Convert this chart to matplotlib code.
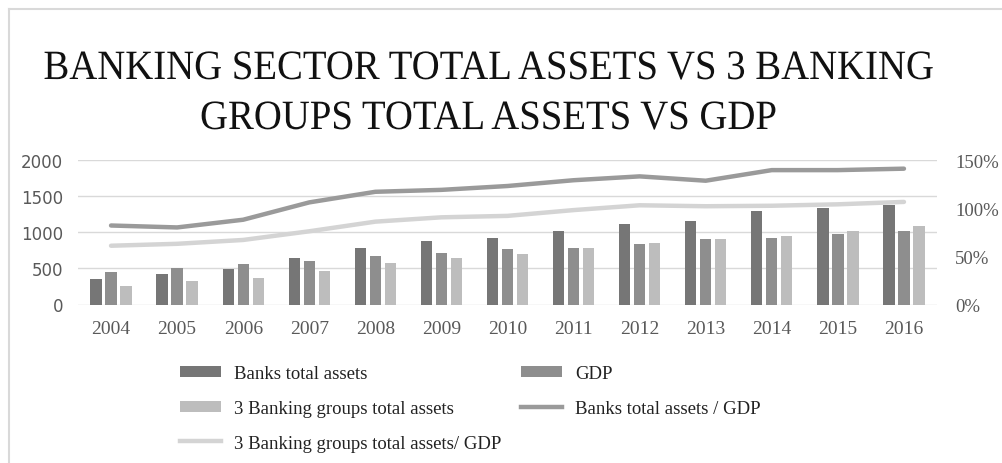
import matplotlib
matplotlib.use("Agg")
import matplotlib.pyplot as plt
import numpy as np
from matplotlib.lines import Line2D
from matplotlib.patches import Patch
from matplotlib.patheffects import AbstractPathEffect
from matplotlib.transforms import Affine2D
from matplotlib.ticker import PercentFormatter

# ---- data -------------------------------------------------------------
years = ["2004", "2005", "2006", "2007", "2008", "2009", "2010",
         "2011", "2012", "2013", "2014", "2015", "2016"]
banks_total_assets = [353, 418, 491, 648, 786, 879, 925, 1017, 1110, 1156, 1294, 1340, 1373]
gdp = [445, 510, 556, 602, 671, 717, 764, 786, 833, 902, 925, 971, 1017]
groups_total_assets = [260, 325, 371, 464, 579, 648, 695, 786, 856, 902, 948, 1017, 1087]
banks_to_gdp = [0.82, 0.80, 0.88, 1.06, 1.17, 1.19, 1.23, 1.29, 1.33, 1.285, 1.395, 1.395, 1.41]
groups_to_gdp = [0.61, 0.63, 0.67, 0.76, 0.86, 0.905, 0.92, 0.98, 1.03, 1.02, 1.025, 1.04, 1.065]

left_ticks = [0, 500, 1000, 1500, 2000]
right_ticks = [0, 0.5, 1.0, 1.5]

title_lines = ["BANKING SECTOR TOTAL ASSETS VS 3 BANKING",
               "GROUPS TOTAL ASSETS VS GDP"]
labels = ["Banks total assets", "GDP", "3 Banking groups total assets",
          "Banks total assets / GDP", "3 Banking groups total assets/ GDP"]


class Squeeze(AbstractPathEffect):
    """Narrow glyph outlines horizontally around the centre of each line."""

    def __init__(self, sx):
        super().__init__()
        self.sx = sx

    def draw_path(self, renderer, gc, tpath, affine, rgbFace=None):
        ext = tpath.get_extents()
        cx = 0.5 * (ext.x0 + ext.x1)
        squeeze = Affine2D().translate(-cx, 0).scale(self.sx, 1).translate(cx, 0)
        renderer.draw_path(gc, tpath, squeeze + affine, rgbFace)


c_banks = "#767676"
c_gdp = "#8e8e8e"
c_groups = "#bdbdbd"
c_line_banks = "#9a9a9a"
c_line_groups = "#d4d4d4"
c_grid = "#d9d9d9"
c_tick = "#595959"

serif = "Liberation Serif"

W, H = 1002, 464
PX = 72 / 100  # points per pixel at 100 dpi

fig = plt.figure(figsize=(W / 100, H / 100), dpi=100)
fig.patch.set_facecolor("white")

# frame around the chart area
fig.add_artist(Line2D([9 / W, 1.0], [1 - 10 / H, 1 - 10 / H], color=c_grid, lw=1.5))
fig.add_artist(Line2D([9 / W, 9 / W], [0.0, 1 - 10 / H], color=c_grid, lw=1.5))

ax = fig.add_axes([78 / W, 1 - 305.5 / H, (937 - 78) / W, (305.5 - 161) / H])
ax2 = ax.twinx()

x = np.arange(len(years))
bw = 0.171
step = 0.227
ax.bar(x - step, banks_total_assets, bw, color=c_banks, zorder=3)
ax.bar(x, gdp, bw, color=c_gdp, zorder=3)
ax.bar(x + step, groups_total_assets, bw, color=c_groups, zorder=3)

ax2.plot(x, banks_to_gdp, color=c_line_banks, lw=3.2, solid_joinstyle="round",
         solid_capstyle="round", zorder=4)
ax2.plot(x, groups_to_gdp, color=c_line_groups, lw=3.2, solid_joinstyle="round",
         solid_capstyle="round", zorder=4)

ax.set_xlim(-0.5, len(years) - 0.5)
ax.set_ylim(0, 2000)
ax2.set_ylim(0, 1.5)

ax.set_yticks(left_ticks)
ax.set_yticklabels([str(t) for t in left_ticks])
ax.yaxis.grid(True, color=c_grid, lw=1.0, zorder=0)
ax.set_axisbelow(True)
ax.set_xticks(x)
ax.set_xticklabels(years)

ax2.set_yticks(right_ticks)
ax2.yaxis.set_major_formatter(PercentFormatter(1.0, decimals=0))

for a in (ax, ax2):
    for s in a.spines.values():
        s.set_visible(False)
    a.tick_params(length=0)

ax.tick_params(axis="y", pad=15 * PX, labelsize=12, labelcolor=c_tick)
for t in ax.get_yticklabels():
    t.set_family("DejaVu Sans")
ax.tick_params(axis="x", pad=15 * PX, labelsize=14, labelcolor=c_tick)
for t in ax.get_xticklabels():
    t.set_family(serif)
ax2.tick_params(axis="y", pad=18 * PX, labelsize=13.5, labelcolor=c_tick)
for t in ax2.get_yticklabels():
    t.set_family(serif)

# title
for line, yb in zip(title_lines, [80, 130]):
    t = fig.text(488 / W, 1 - yb / H, line, ha="center", va="baseline",
                 fontsize=30, family=serif, color="#111111")
    t.set_path_effects([Squeeze(0.93)])

# legend
handles = [
    Patch(facecolor=c_banks, edgecolor="none"),
    Patch(facecolor=c_groups, edgecolor="none"),
    Line2D([], [], color=c_line_groups, lw=3.2),
    Patch(facecolor=c_gdp, edgecolor="none"),
    Line2D([], [], color=c_line_banks, lw=3.2),
]
order = [labels[0], labels[2], labels[4], labels[1], labels[3]]
leg = fig.legend(handles, order, loc="upper left",
                 bbox_to_anchor=(180 / W, 1 - 366 / H), ncol=2, frameon=False,
                 prop={"family": serif, "size": 13.5}, handlelength=2.2,
                 handleheight=0.55, handletextpad=0.7, labelspacing=0.95,
                 columnspacing=1.0, borderpad=0, borderaxespad=0)
for t in leg.get_texts():
    t.set_color("#222222")

fig.savefig("out.png", dpi=100, facecolor="white")
